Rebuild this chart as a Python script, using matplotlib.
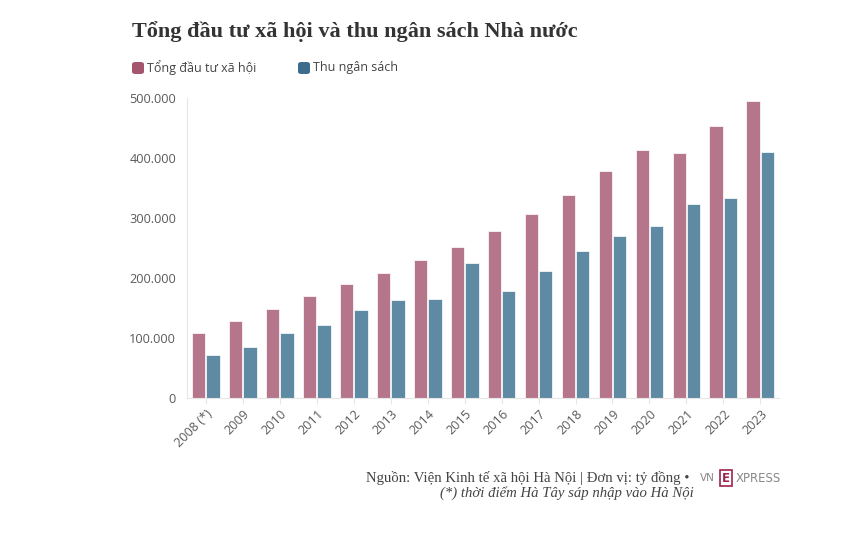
import numpy as np
import matplotlib
matplotlib.use("Agg")
import matplotlib.pyplot as plt
from matplotlib.ticker import FuncFormatter

years = ["2008 (*)", "2009", "2010", "2011", "2012", "2013", "2014", "2015",
         "2016", "2017", "2018", "2019", "2020", "2021", "2022", "2023"]
tong_dau_tu = [108000, 128000, 148000, 170000, 191000, 209000, 230000, 252000,
               278000, 307000, 339000, 379000, 414000, 408000, 453000, 495000]
thu_ngan_sach = [72000, 85000, 108000, 122000, 146000, 164000, 165000, 225000,
                 178000, 212000, 246000, 270000, 287000, 323000, 333000, 410000]

pink = "#b5768b"
blue = "#5f8aa3"
pink_dark = "#a5566f"
blue_dark = "#3d6c8c"
gray = "#5a5a5a"

fig = plt.figure(figsize=(8.43, 5.39), dpi=100)
ax = fig.add_axes([0.222, 0.2616, 0.702, 0.556])

x = np.arange(len(years))
w = 0.355
ax.bar(x - 0.2, tong_dau_tu, width=w, color=pink, edgecolor="white", linewidth=0.5)
ax.bar(x + 0.2, thu_ngan_sach, width=w, color=blue, edgecolor="white", linewidth=0.5)

ax.set_xlim(-0.5, len(years) - 0.5)
ax.set_ylim(0, 500000)
ax.set_yticks([0, 100000, 200000, 300000, 400000, 500000])
ax.yaxis.set_major_formatter(FuncFormatter(lambda v, p: f"{int(v):,}".replace(",", ".")))
ax.set_xticks(x)
ax.set_xticklabels(years, rotation=45, ha="right", rotation_mode="anchor")

for s in ["top", "right"]:
    ax.spines[s].set_visible(False)
for s in ["left", "bottom"]:
    ax.spines[s].set_color("#e6e6e6")
    ax.spines[s].set_linewidth(0.8)
ax.tick_params(axis="y", length=0, pad=8, labelsize=9.2, labelcolor=gray)
ax.tick_params(axis="x", length=4, color="#e6e6e6", pad=3, labelsize=9.2, labelcolor=gray)
for lab in ax.get_xticklabels() + ax.get_yticklabels():
    lab.set_fontfamily("Open Sans")

# title and legend
fig.text(132 / 843, 1 - 32 / 539, "Tổng đầu tư xã hội và thu ngân sách Nhà nước",
         fontsize=16, fontweight="bold", family="Liberation Serif", color="#333333", va="center")

def legend_item(px, label, color):
    fig.patches.append(matplotlib.patches.FancyBboxPatch(
        (px / 843, 1 - 74 / 539), 12 / 843, 12 / 539,
        boxstyle="round,pad=0,rounding_size=0.004", transform=fig.transFigure,
        facecolor=color, edgecolor="none"))
    fig.text((px + 15) / 843, 1 - 68 / 539, label, fontsize=9, family="Open Sans",
             color="#444444", va="center")

legend_item(132, "Tổng đầu tư xã hội", pink_dark)
legend_item(298, "Thu ngân sách", blue_dark)

# footer
fig.text(690 / 843, 1 - 478 / 539, "Nguồn: Viện Kinh tế xã hội Hà Nội | Đơn vị: tỷ đồng •",
         fontsize=10.6, family="Liberation Serif", color="#444444", ha="right", va="center")
fig.text(567 / 843, 1 - 493 / 539, "(*) thời điểm Hà Tây sáp nhập vào Hà Nội",
         fontsize=10.6, family="Liberation Serif", style="italic", color="#444444",
         ha="center", va="center")
fig.text(700 / 843, 1 - 478 / 539, "VN", fontsize=7.5, family="DejaVu Sans",
         color="#888888", ha="left", va="center")
fig.text(726 / 843, 1 - 478 / 539, "E", fontsize=8.5, family="DejaVu Sans", color="#9f224e",
         ha="center", va="center", fontweight="bold",
         bbox=dict(boxstyle="square,pad=0.15", facecolor="white", edgecolor="#9f224e", linewidth=1.2))
fig.text(736 / 843, 1 - 478 / 539, "XPRESS", fontsize=8.5, family="DejaVu Sans",
         color="#888888", ha="left", va="center")

fig.savefig("out.png", dpi=100)
